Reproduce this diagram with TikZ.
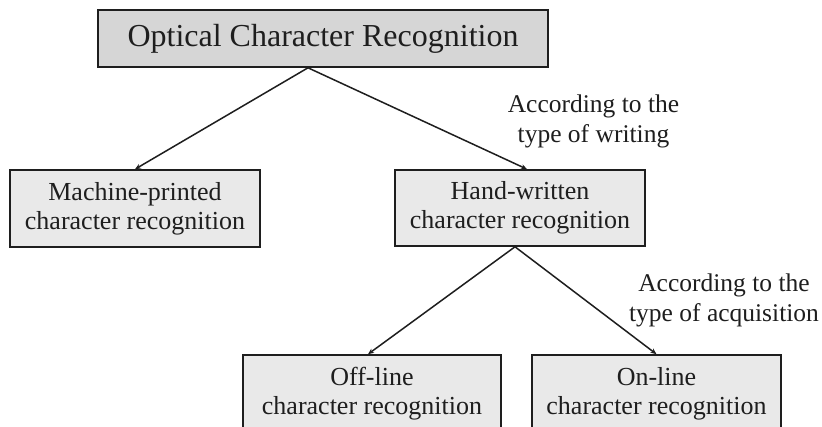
\documentclass[tikz,border=0pt]{standalone}
\usepackage{fontspec}
\setmainfont{Liberation Serif}
\usetikzlibrary{arrows.meta,calc}
\definecolor{topfill}{HTML}{D6D6D6}
\definecolor{boxfill}{HTML}{E9E9E9}
\definecolor{ink}{HTML}{1E1E1E}
\begin{document}
\begin{tikzpicture}[x=1pt,y=-1pt,
  box/.style={draw=ink,line width=1.6pt,fill=boxfill,rectangle,inner sep=0pt,
    align=center,text=ink,font=\fontsize{26}{29}\selectfont},
  topbox/.style={box,fill=topfill,font=\fontsize{32}{36}\selectfont},
  lbl/.style={align=center,text=ink,font=\fontsize{25.5}{30}\selectfont,inner sep=0pt},
  conn/.style={draw=ink,line width=1.5pt,-{Stealth[length=6pt,width=5pt]}}]
\useasboundingbox (0,0) rectangle (822,427);
\clip (0,0) rectangle (822,427);
\fill[white] (0,0) rectangle (822,427);
\node[topbox,minimum width=450pt,minimum height=57pt] (ocr) at (323,38.5) {Optical Character Recognition};
\node[box,minimum width=250pt,minimum height=77pt] (mp) at (135,208.5) {Machine-printed\\character recognition};
\node[box,minimum width=250pt,minimum height=76pt] (hw) at (520,208) {Hand-written\\character recognition};
\node[box,minimum width=258pt,minimum height=77pt] (off) at (372,393.5) {Off-line\\character recognition};
\node[box,minimum width=249pt,minimum height=77pt] (on) at (656.5,393.5) {On-line\\character recognition};
\node[lbl] (l1) at (593.5,121) {According to the\\type of writing};
\node[lbl] (l2) at (724,300) {According to the\\type of acquisition};
\coordinate (ocrs) at ([xshift=-15pt]ocr.south);
\draw[conn] (ocrs) -- (mp.north);
\draw[conn] (ocrs) -- ([xshift=7pt]hw.north);
\draw[conn] ([xshift=-5pt]hw.south) -- ([xshift=-4pt]off.north);
\draw[conn] ([xshift=-5pt]hw.south) -- (on.north);
\end{tikzpicture}
\end{document}
